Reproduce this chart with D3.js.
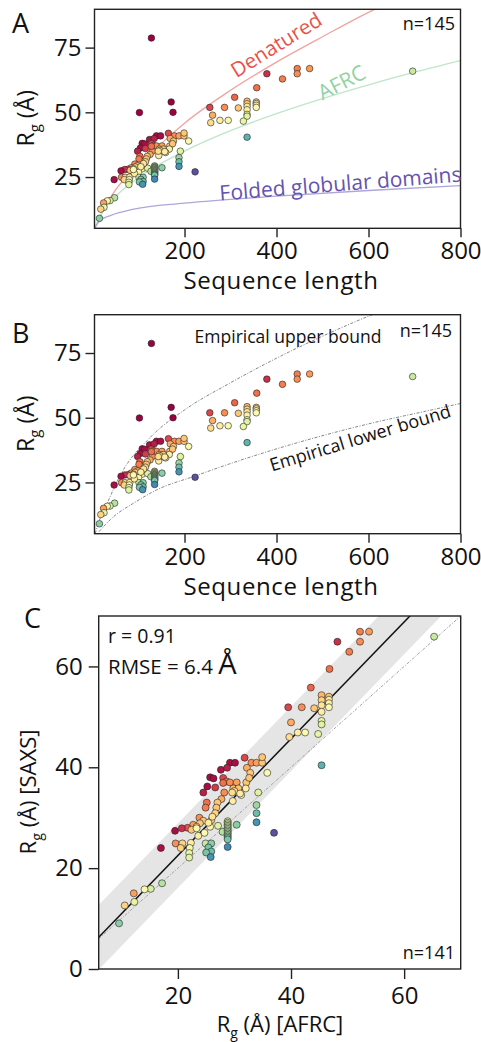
<!DOCTYPE html>
<html>
<head>
<meta charset="utf-8">
<script src="https://cdn.jsdelivr.net/npm/d3@7"></script>
<style>
  body { margin: 0; background: #fff; }
  text { font-family: "Open Sans", sans-serif; fill: #111; }
</style>
</head>
<body>
<svg id="chart" width="481" height="1042"></svg>
<script>
// ---- data ----
// sequence length (A, B), SAXS Rg, AFRC Rg (C; null = not in C), colour value (0 = dark red .. 1 = purple)
const seqLength = [696, 445, 472, 379, 445, 413, 357, 309, 255, 287, 317, 336, 336, 336, 336, 336, 336, 356, 356, 356, 356,
  261, 257, 277, 295, 328, 336, 209,
  165, 139, 148, 178, 188, 199, 199, 169, 124, 134, 176, 108, 113, 128, 133, 139, 151, 168, 174, 104, 115, 98, 130, 145, 152, 154, 167, 159, 191,
  125, 119, 103, 101, 144, 117, 115, 188, 188, 188, 223, 92, 84, 77, 70, 62, 110, 108, 100, 120, 127, 151,
  135, 135, 135, 135, 135, 135, 135, 135, 135, 135, 135, 135, 135, 135,
  63, 71, 81, 69, 80, 79, 79, 47, 101, 110, 105, 110, 102, 109,
  48, 38, 32, 24, 25, 18, 15,
  98, 93, 89, 82, 91, 128, 154, 147, 111, 105, 89, 157, 143,
  128, 102, 171, 175];
const rgSaxs = [65.9, 66.9, 66.9, 64.9, 64.9, 62.9, 59.5, 55.8, 51.9, 51.9, 51.7, 54.3, 53.3, 52.3, 51.0, 49.2, 48.5, 54.0, 53.4, 52.7, 51.9,
  48.9, 46.0, 46.9, 46.9, 46.6, 40.4, 38.9,
  41.9, 40.9, 40.9, 40.9, 40.9, 40.9, 42.0, 39.9, 39.5, 39.9, 38.9, 38.0, 37.8, 37.9, 37.2, 37.0, 37.0, 37.0, 37.9, 36.2, 36.0, 35.0, 35.0, 35.8, 35.3, 35.0, 35.8, 34.5, 35.0,
  33.7, 33.0, 33.0, 32.0, 33.3, 32.0, 30.9, 32.5, 30.9, 29.1, 27.0, 30.0, 28.6, 28.0, 27.9, 27.4, 29.5, 28.2, 27.0, 28.4, 27.2, 28.6,
  29.3, 29.0, 28.7, 28.4, 28.1, 27.8, 27.5, 27.2, 26.9, 26.6, 26.3, 26.0, 25.7, 24.2,
  24.9, 24.9, 25.0, 24.0, 24.0, 23.0, 22.1, 24.0, 24.9, 24.9, 24.1, 23.3, 23.1, 22.2,
  17.0, 15.9, 15.8, 15.0, 13.3, 12.6, 9.05,
  29.4, 28.9, 28.2, 27.6, 26.4, 36.9, 35.8, 35.3, 30.2, 29.0, 27.9, 34.8, 35.0,
  78.7, 49.9, 54.0, 50.0];
const rgAfrc = [65.3, 52.2, 53.8, 48.2, 52.2, 50.3, 46.8, 43.5, 39.5, 41.9, 44.1, 45.4, 45.4, 45.4, 45.4, 45.4, 45.4, 46.7, 46.7, 46.7, 46.7,
  40.0, 39.7, 41.2, 42.5, 44.8, 45.4, 35.8,
  31.8, 29.2, 30.1, 33.0, 33.9, 34.9, 34.9, 32.2, 27.6, 28.7, 32.8, 25.7, 26.3, 28.0, 28.6, 29.2, 30.4, 32.1, 32.6, 25.2, 26.6, 24.5, 28.2, 29.8, 30.5, 30.7, 32.0, 31.2, 34.2,
  27.7, 27.0, 25.1, 24.9, 29.7, 26.8, 26.6, 33.9, 33.9, 33.9, 37.0, 23.8, 22.7, 21.7, 20.7, 19.5, 25.9, 25.7, 24.7, 27.1, 27.9, 30.4,
  28.8, 28.8, 28.8, 28.8, 28.8, 28.8, 28.8, 28.8, 28.8, 28.8, 28.8, 28.8, 28.8, 28.8,
  19.6, 20.8, 22.3, 20.5, 22.1, 22.0, 22.0, 17.0, 24.9, 25.9, 25.4, 25.9, 25.0, 25.8,
  17.2, 15.2, 14.1, 12.2, 12.3, 10.6, 9.6,
  24.5, 23.9, 23.3, 22.4, 23.6, 28.0, 30.7, 30.0, 26.1, 25.4, 23.3, 31.0, 29.6,
  null, null, null, null];
const colourVal = [0.65, 0.22, 0.27, 0.08, 0.25, 0.22, 0.2, 0.18, 0.12, 0.25, 0.35, 0.32, 0.38, 0.42, 0.45, 0.58, 0.6, 0.35, 0.43, 0.47, 0.5,
  0.3, 0.4, 0.45, 0.5, 0.58, 0.82, 0.5,
  0.12, 0.02, 0.02, 0.25, 0.28, 0.35, 0.35, 0.3, 0.03, 0.05, 0.35, 0.02, 0.02, 0.12, 0.2, 0.25, 0.28, 0.35, 0.35, 0.02, 0.1, 0.05, 0.25, 0.33, 0.38, 0.45, 0.45, 0.5, 0.6,
  0.3, 0.35, 0.2, 0.22, 0.45, 0.35, 0.38, 0.72, 0.8, 0.88, 1.0, 0.25, 0.28, 0.15, 0.08, 0.02, 0.38, 0.48, 0.5, 0.6, 0.68, 0.75,
  0.6, 0.62, 0.64, 0.66, 0.68, 0.66, 0.7, 0.68, 0.72, 0.7, 0.74, 0.76, 0.78, 0.9,
  0.25, 0.38, 0.45, 0.38, 0.5, 0.58, 0.6, 0.02, 0.65, 0.75, 0.78, 0.8, 0.78, 0.88,
  0.68, 0.62, 0.5, 0.28, 0.58, 0.38, 0.75,
  0.35, 0.35, 0.38, 0.35, 0.45, 0.2, 0.35, 0.38, 0.42, 0.45, 0.5, 0.45, 0.4,
  0.0, 0.0, 0.0, 0.0];

// reference curves (sequence length, Rg)
const denaturedCurve = [[4, 4.6], [20, 11], [50, 20], [100, 29.8], [150, 38], [200, 45.8], [300, 58.5], [400, 69.4], [500, 79.2], [611, 89.6], [640, 92]];
const afrcCurve = [[4, 5], [20, 11.1], [50, 17.5], [100, 24.8], [200, 35], [300, 42.9], [400, 49.5], [500, 55.3], [600, 60.6], [700, 65.5], [800, 70]];
const foldedCurve = [[4, 5.3], [17, 8.3], [40, 10.2], [90, 12.6], [200, 14.9], [400, 17.6], [600, 19.8], [800, 21.7]];
const upperBound = [[6, 5.3], [10, 7.8], [32, 17], [61, 28], [126, 42.5], [200, 53], [300, 63.5], [400, 73], [500, 81.5], [611, 90], [640, 92]];
const lowerBound = [[14, 6], [44, 11.5], [94, 17.5], [138, 22], [223, 27.5], [300, 32.3], [406, 38.3], [507, 43.4], [616, 48.3], [724, 52.5], [800, 55.5]];

// panel C fit
const fitSlope = 1.158;
const fitIntercept = -0.67;
const rmse = 6.4;

// ticks
const lenTicks = [200, 400, 600, 800];
const rgTicks = [25, 50, 75];
const cTicks = [20, 40, 60];
const cTicksY = [0, 20, 40, 60];

const points = seqLength.map((n, i) => ({ n, rg: rgSaxs[i], afrc: rgAfrc[i], c: colourVal[i] }));
const colour = d => d3.interpolateSpectral(d.c);

const svg = d3.select('#chart');

function frame(g, x, y) {
  g.append('rect')
    .attr('x', x.range()[0]).attr('y', y.range()[1])
    .attr('width', x.range()[1] - x.range()[0])
    .attr('height', y.range()[0] - y.range()[1])
    .attr('fill', 'none').attr('stroke', '#222').attr('stroke-width', 1.4);
}

function styleAxis(sel, size) {
  sel.select('.domain').remove();
  sel.selectAll('.tick line').attr('stroke', '#222').attr('stroke-width', 1.4);
  sel.selectAll('.tick text').attr('font-size', size).attr('fill', '#111');
}

function rgLabel(g, x, y, size, suffix) {
  const t = g.append('text')
    .attr('transform', `translate(${x},${y}) rotate(-90)`)
    .attr('text-anchor', 'middle')
    .attr('font-size', size);
  t.append('tspan').text('R');
  t.append('tspan').text('g').attr('font-size', size * 0.65).attr('dy', size * 0.28);
  t.append('tspan').text(' (Å)' + suffix).attr('dy', -size * 0.28);
  return t;
}

// ---------- panels A and B ----------
function lengthPanel(top, id) {
  const x = d3.scaleLinear().domain([4.3, 800]).range([94.5, 460.5]);
  const y = d3.scaleLinear().domain([5.2, 89.8]).range([top + 219, top]);
  const g = svg.append('g');

  g.append('clipPath').attr('id', 'clip' + id)
    .append('rect')
    .attr('x', x.range()[0]).attr('y', top)
    .attr('width', x.range()[1] - x.range()[0]).attr('height', 219);

  const line = d3.line().x(d => x(d[0])).y(d => y(d[1])).curve(d3.curveMonotoneX);
  const curves = g.append('g').attr('clip-path', `url(#clip${id})`);

  g.append('g')
    .attr('transform', `translate(0,${top + 219})`)
    .call(d3.axisBottom(x).tickValues(lenTicks).tickSize(9).tickPadding(5))
    .call(s => styleAxis(s, 24));
  g.append('g')
    .attr('transform', `translate(${x.range()[0]},0)`)
    .call(d3.axisLeft(y).tickValues(rgTicks).tickSize(9).tickPadding(4))
    .call(s => styleAxis(s, 24));

  g.append('text').attr('x', 281).attr('y', top + 280).attr('text-anchor', 'middle')
    .attr('font-size', 24).attr('letter-spacing', 0.6).text('Sequence length');
  rgLabel(g, 34, top + 109, 23, '');

  return { g, x, y, line, curves };
}

function scatter(g, data, xv, yv, r) {
  g.append('g').selectAll('circle')
    .data(data)
    .join('circle')
    .attr('cx', xv).attr('cy', yv).attr('r', r)
    .attr('fill', colour)
    .attr('stroke', '#222').attr('stroke-width', 0.7).attr('stroke-opacity', 0.85);
}

// A
const A = lengthPanel(9.3, 'A');
A.curves.append('path').attr('d', A.line(denaturedCurve)).attr('fill', 'none').attr('stroke', '#f2a3a0').attr('stroke-width', 1.3);
A.curves.append('path').attr('d', A.line(afrcCurve)).attr('fill', 'none').attr('stroke', '#bfe6c8').attr('stroke-width', 1.3);
A.curves.append('path').attr('d', A.line(foldedCurve)).attr('fill', 'none').attr('stroke', '#aea6dc').attr('stroke-width', 1.3);
scatter(A.g, points, d => A.x(d.n), d => A.y(d.rg), 3.3);
frame(A.g, A.x, A.y);
A.g.append('text').attr('transform', 'translate(280,51) rotate(-32)').attr('text-anchor', 'middle')
  .attr('font-size', 20.5).style('fill', '#e9524a').text('Denatured');
A.g.append('text').attr('transform', 'translate(345,89) rotate(-27)').attr('text-anchor', 'middle')
  .attr('font-size', 21).style('fill', '#8fd3a3').text('AFRC');
A.g.append('text').attr('transform', 'translate(341,191) rotate(-4.5)').attr('text-anchor', 'middle')
  .attr('font-size', 21).style('fill', '#6353b0').text('Folded globular domains');
A.g.append('text').attr('x', 455).attr('y', 30).attr('text-anchor', 'end').attr('font-size', 18).text('n=145');
A.g.append('text').attr('x', 12).attr('y', 33).attr('font-size', 27).text('A');

// B
const B = lengthPanel(314.7, 'B');
B.curves.append('path').attr('d', B.line(upperBound)).attr('fill', 'none').attr('stroke', '#777').attr('stroke-width', 0.9).attr('stroke-dasharray', '3,1.5,1,1.5');
B.curves.append('path').attr('d', B.line(lowerBound)).attr('fill', 'none').attr('stroke', '#777').attr('stroke-width', 0.9).attr('stroke-dasharray', '3,1.5,1,1.5');
scatter(B.g, points, d => B.x(d.n), d => B.y(d.rg), 3.3);
frame(B.g, B.x, B.y);
B.g.append('text').attr('x', 288).attr('y', 343).attr('text-anchor', 'middle').attr('font-size', 17.5).text('Empirical upper bound');
B.g.append('text').attr('transform', 'translate(362,444) rotate(-17)').attr('text-anchor', 'middle')
  .attr('font-size', 18).text('Empirical lower bound');
B.g.append('text').attr('x', 452).attr('y', 337).attr('text-anchor', 'end').attr('font-size', 18).text('n=145');
B.g.append('text').attr('x', 12).attr('y', 343).attr('font-size', 27).text('B');

// ---------- panel C ----------
const xC = d3.scaleLinear().domain([6, 70]).range([98.7, 460.7]);
const yC = d3.scaleLinear().domain([0, 70]).range([969, 616]);
const gC = svg.append('g');
gC.append('clipPath').attr('id', 'clipC').append('rect')
  .attr('x', 98.7).attr('y', 616).attr('width', 362).attr('height', 353);
const cLayer = gC.append('g').attr('clip-path', 'url(#clipC)');
const fitDomain = xC.domain();
cLayer.append('path')
  .attr('d', d3.area()
    .x(v => xC(v))
    .y0(v => yC(fitSlope * v + fitIntercept - rmse))
    .y1(v => yC(fitSlope * v + fitIntercept + rmse))(fitDomain))
  .attr('fill', '#e5e5e5');
cLayer.append('path')
  .attr('d', d3.line().x(v => xC(v)).y(v => yC(v))(fitDomain))
  .attr('fill', 'none').attr('stroke', '#999').attr('stroke-width', 0.9).attr('stroke-dasharray', '3,1.5,1,1.5');
cLayer.append('path')
  .attr('d', d3.line().x(v => xC(v)).y(v => yC(fitSlope * v + fitIntercept))(fitDomain))
  .attr('fill', 'none').attr('stroke', '#111').attr('stroke-width', 1.5);
scatter(cLayer, points.filter(d => d.afrc !== null), d => xC(d.afrc), d => yC(d.rg), 3.5);
frame(gC, xC, yC);

gC.append('g').attr('transform', 'translate(0,969)')
  .call(d3.axisBottom(xC).tickValues(cTicks).tickSize(10).tickPadding(8))
  .call(s => styleAxis(s, 24));
gC.append('g').attr('transform', 'translate(98.7,0)')
  .call(d3.axisLeft(yC).tickValues(cTicksY).tickSize(10).tickPadding(6))
  .call(s => styleAxis(s, 24));

const xl = gC.append('text').attr('x', 280).attr('y', 1032).attr('text-anchor', 'middle').attr('font-size', 22);
xl.append('tspan').text('R');
xl.append('tspan').text('g').attr('font-size', 14).attr('dy', 6);
xl.append('tspan').text(' (Å) [AFRC]').attr('dy', -6);
rgLabel(gC, 36, 792, 22, ' [SAXS]');

gC.append('text').attr('x', 108).attr('y', 643).attr('font-size', 19.5).text('r = 0.91');
const rm = gC.append('text').attr('x', 108).attr('y', 674).attr('font-size', 20.5);
rm.append('tspan').text('RMSE = 6.4 ');
rm.append('tspan').text('Å').attr('font-size', 29);
gC.append('text').attr('x', 455).attr('y', 959).attr('text-anchor', 'end').attr('font-size', 18).text('n=141');
gC.append('text').attr('x', 24).attr('y', 628).attr('font-size', 27).text('C');
</script>
</body>
</html>
